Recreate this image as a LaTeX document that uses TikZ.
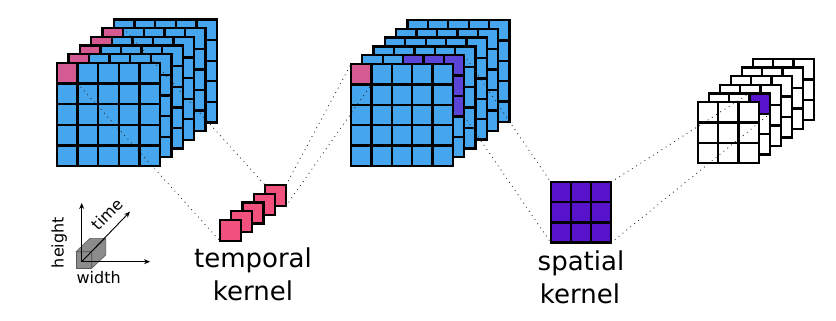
\documentclass[tikz,border=0pt]{standalone}
\usepackage{fontspec}
\setmainfont{DejaVu Sans}
\usetikzlibrary{arrows.meta}
\definecolor{cblue}{HTML}{45A6EE}
\definecolor{cpinkA}{HTML}{D65A92}
\definecolor{cpinkB}{HTML}{F2517E}
\definecolor{cpurA}{HTML}{5A45D9}
\definecolor{cpurB}{HTML}{5713CC}
\definecolor{boxgray}{HTML}{8C8C8C}
\tikzset{
 cellbox/.style={draw=black, line width=2.3pt, line join=miter},
 proj/.style={draw=black!85, line width=1.2pt, line cap=round, dash pattern=on 0pt off 5pt},
 axisarrow/.style={line width=0.9pt, -{Stealth[length=6pt,width=5pt]}},
 biglabel/.style={font=\fontsize{26}{30}\selectfont, inner sep=0pt, anchor=base},
 smalllabel/.style={font=\fontsize{16}{18}\selectfont, inner sep=0pt},
 cubebox/.style={fill=boxgray, draw=black!65, line width=0.6pt, line join=round},
}
\newcommand{\drawlayer}[5]{%
  \foreach \ii in {1,...,#3}{\foreach \jj in {1,...,#3}{
    \draw[cellbox, fill=#5] ({#1+(\ii-1)*#4},{#2+(\jj-1)*#4}) rectangle ++(#4,#4);}}}
\newcommand{\onecell}[4]{\draw[cellbox, fill=#4] (#1,#2) rectangle ++(#3,#3);}
\begin{document}
\begin{tikzpicture}[x=1pt,y=-1pt]
\useasboundingbox (0,0) rectangle (836,321);
% stack 1
\foreach \k in {5,4,...,0}{
  \pgfmathsetmacro\ox{57+11.4*\k}
  \pgfmathsetmacro\oy{63-8.7*\k}
  \drawlayer{\ox}{\oy}{5}{20.6}{cblue}
  \ifnum\k<5 \onecell{\ox}{\oy}{20.6}{cpinkA}\fi
}
% stack 2
\foreach \k in {5,4,...,0}{
  \pgfmathsetmacro\ox{351+11.3*\k}
  \pgfmathsetmacro\oy{64-8.8*\k}
  \drawlayer{\ox}{\oy}{5}{20.4}{cblue}
  \ifnum\k=1
    \foreach \ii in {2,3,4}{\foreach \jj in {0,1,2}{
      \onecell{\ox+\ii*20.4}{\oy+\jj*20.4}{20.4}{cpurA}}}
  \fi
  \ifnum\k=0 \onecell{\ox}{\oy}{20.4}{cpinkA}\fi
}
% stack 3
\foreach \k in {5,4,...,0}{
  \pgfmathsetmacro\ox{697.7+11*\k}
  \pgfmathsetmacro\oy{102-8.6*\k}
  \drawlayer{\ox}{\oy}{3}{20.4}{white}
  \ifnum\k=1 \onecell{\ox+40.8}{\oy}{20.4}{cpurB}\fi
}
% temporal kernel
\foreach \k in {4,3,...,0}{
  \onecell{220+11.25*\k}{220-8.75*\k}{21}{cpinkB}
}
% spatial kernel
\drawlayer{550.7}{182}{3}{20.2}{cpurB}
% named corners
\coordinate (s1pfbr) at (77.6,83.6);
\coordinate (s1pbtr) at (123.2,28.2);
\coordinate (tkfbl) at (220,241);
\coordinate (tkbtl) at (265,185);
\coordinate (tkbtr) at (286,185);
\coordinate (tkbbr) at (286,206);
\coordinate (s2ptl) at (351,64);
\coordinate (s2pbr) at (371.4,84.4);
\coordinate (s2qtr) at (464.3,55.2);
\coordinate (s2qbr) at (464.3,116.4);
\coordinate (sktl) at (550.7,182);
\coordinate (skbl) at (550.7,242.6);
\coordinate (sktr) at (611.3,182);
\coordinate (skbr) at (611.3,242.6);
\coordinate (s3qtl) at (749.5,93.4);
\coordinate (s3qbr) at (769.9,113.8);
% projection lines
\draw[proj] (s1pfbr) -- (tkfbl);
\draw[proj] (s1pbtr) -- (tkbtl);
\draw[proj] (tkbtr) -- (s2ptl);
\draw[proj] (tkbbr) -- (s2pbr);
\draw[proj] (s2qtr) -- (sktl);
\draw[proj] (s2qbr) -- (skbl);
\draw[proj] (sktr) -- (s3qtl);
\draw[proj] (skbr) -- (s3qbr);
% labels
\node[biglabel] (tk1) at (253,267) {temporal};
\node[biglabel] (tk2) at (253,300) {kernel};
\node[biglabel] (sk1) at (581,270) {spatial};
\node[biglabel] (sk2) at (580,303.5) {kernel};
% legend
\coordinate (O) at (81.7,261.7);
\coordinate (up) at (81.7,203);
\coordinate (rt) at (150,261.7);
\coordinate (dg) at (130,211.7);
\draw[cubebox] (76,251.7) rectangle (91.7,268.3);
\draw[cubebox] (76,251.7) -- (90,238.4) -- (105.7,238.4) -- (91.7,251.7) -- cycle;
\draw[cubebox] (91.7,251.7) -- (105.7,238.4) -- (105.7,255) -- (91.7,268.3) -- cycle;
\draw[axisarrow] (O) -- (up);
\draw[axisarrow] (O) -- (rt);
\draw[axisarrow] (O) -- (dg);
\node[smalllabel, rotate=90] (hl) at (59.2,242.5) {height};
\node[smalllabel] (wl) at (98.7,278) {width};
\node[smalllabel, rotate=46] (tl) at (107,214) {time};
\end{tikzpicture}
\end{document}
